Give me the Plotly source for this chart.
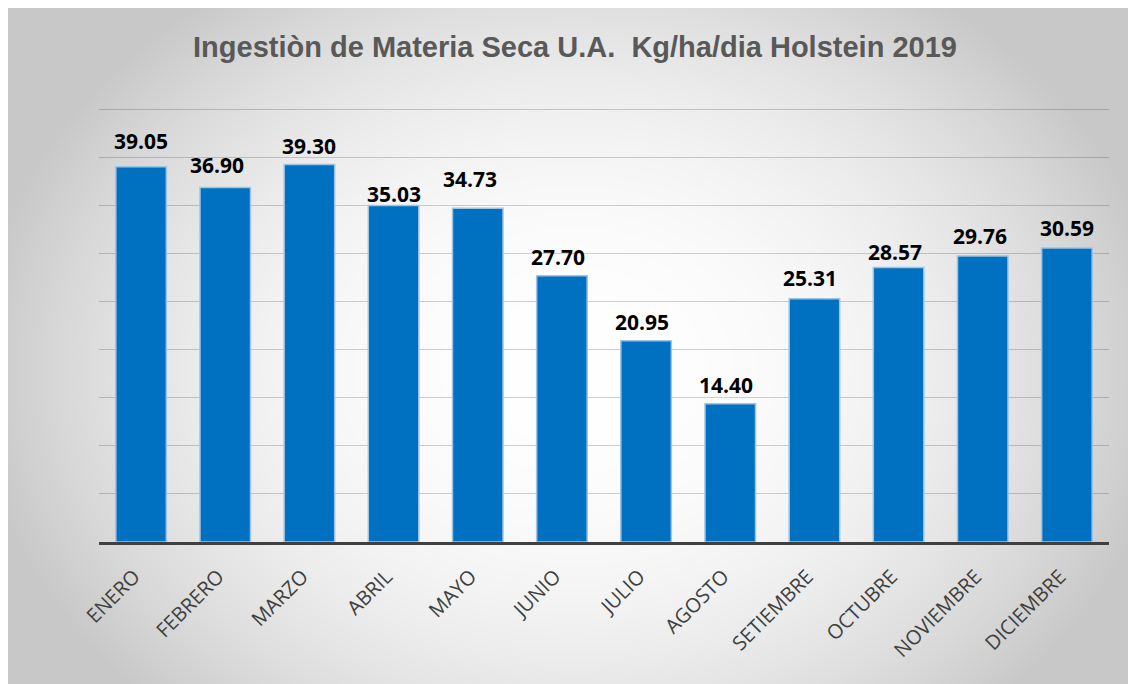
import base64
import struct
import zlib

import numpy as np
import plotly.graph_objects as go

# ---- data ----
months = ["ENERO", "FEBRERO", "MARZO", "ABRIL", "MAYO", "JUNIO", "JULIO",
          "AGOSTO", "SETIEMBRE", "OCTUBRE", "NOVIEMBRE", "DICIEMBRE"]
values = [39.05, 36.90, 39.30, 35.03, 34.73, 27.70, 20.95,
          14.40, 25.31, 28.57, 29.76, 30.59]
title_text = "Ingestiòn de Materia Seca U.A.  Kg/ha/dia Holstein 2019"

# label placement (pixel offsets of each value label, as placed in the original)
label_dy = [26, 22, 18, 11, 29, 19, 19, 19, 21, 15, 20, 20]
label_dx = [0, -8, 0, 0, -8, -4, -4, -4, -4, -4, -3, 0]

# ---- layout geometry (figure pixels; page is offset by 8px body margin) ----
W, H = 1136, 684
Y_MAX = 46.0
PX_PER_UNIT = 9.6
PL, PR, PB = 91, 1101, 534
PT = PB - Y_MAX * PX_PER_UNIT  # plot area top


def gradient_png(w, h):
    yy, xx = np.mgrid[0:h, 0:w].astype(float)
    cx, cy, rx, ry = 565.0, 362.0, 600.0, 470.0
    t = np.sqrt(((xx - cx) / rx) ** 2 + ((yy - cy) / ry) ** 2)
    t = np.clip(t, 0, 1) ** 2.2
    img = (255 - 55 * t).astype(np.uint8)
    raw = b"".join(b"\x00" + img[r].tobytes() for r in range(h))

    def chunk(tag, data):
        c = struct.pack(">I", len(data)) + tag + data
        return c + struct.pack(">I", zlib.crc32(tag + data) & 0xFFFFFFFF)

    png = b"\x89PNG\r\n\x1a\n"
    png += chunk(b"IHDR", struct.pack(">IIBBBBB", w, h, 8, 0, 0, 0, 0))
    png += chunk(b"IDAT", zlib.compress(raw, 9))
    png += chunk(b"IEND", b"")
    return "data:image/png;base64," + base64.b64encode(png).decode()


pw, ph = PR - PL, PB - PT

fig = go.Figure()
fig.add_trace(go.Bar(
    x=months, y=values,
    marker=dict(color="#0070C0", line=dict(color="#9DC3E6", width=1.5)),
    hoverinfo="x+y",
))

for m, v, dy, dx in zip(months, values, label_dy, label_dx):
    fig.add_annotation(
        x=m, y=v, text=f"{v:.2f}", showarrow=False,
        yanchor="middle", yshift=dy, xshift=dx,
        font=dict(family="Open Sans", size=21, color="#000000", weight="bold"),
    )

fig.update_layout(
    width=W, height=H,
    margin=dict(l=PL, r=W - PR, t=PT, b=H - PB, autoexpand=False),
    paper_bgcolor="white",
    plot_bgcolor="rgba(0,0,0,0)",
    bargap=0.4,
    showlegend=False,
    title=dict(
        text=title_text, xref="container", x=567 / W, xanchor="center",
        yref="container", y=1 - 39 / H, yanchor="middle",
        font=dict(family="Liberation Sans", size=29, color="#595959", weight="bold"),
    ),
    images=[dict(
        source=gradient_png(W, H), xref="paper", yref="paper",
        x=-PL / pw, y=PB / ph,
        sizex=W / pw, sizey=H / ph, sizing="stretch",
        xanchor="left", yanchor="top", layer="below",
    )],
    xaxis=dict(
        tickangle=-45, ticks="", showgrid=False,
        showline=True, linecolor="#404040", linewidth=3,
        tickfont=dict(family="Open Sans", size=20, color="#404040"),
        ticklabelstandoff=12, ticklabelshift=-7,
    ),
    yaxis=dict(
        range=[0, Y_MAX], dtick=5, showticklabels=False, ticks="",
        showgrid=True, gridcolor="rgba(0,0,0,0.18)", gridwidth=1,
        zeroline=False,
    ),
)

fig.write_html("out.html")
